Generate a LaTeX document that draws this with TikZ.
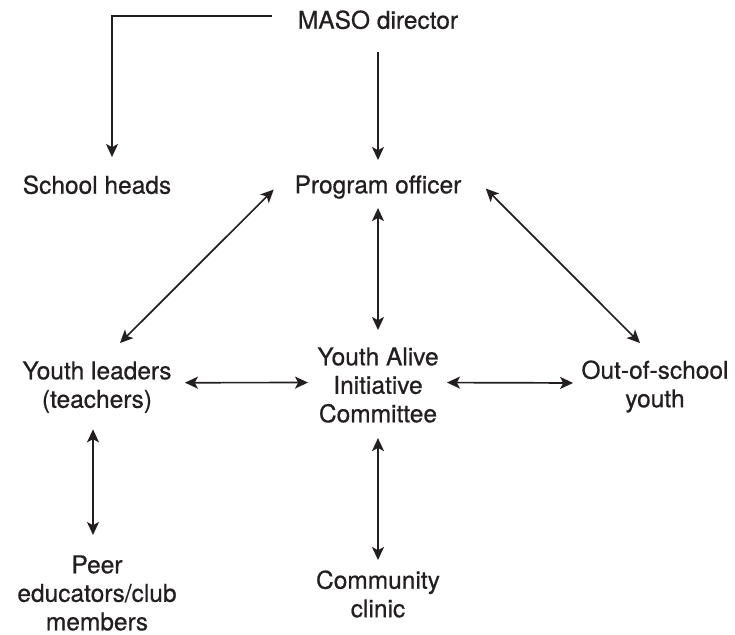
\documentclass[tikz,border=0pt]{standalone}
\usepackage{fontspec}
\setmainfont{TeX Gyre Heros}[FakeBold=0.6]
\usepackage{tikz}
\usetikzlibrary{arrows.meta,positioning,calc}
\usepackage{xcolor}
\definecolor{ink}{HTML}{231F20}
\tikzset{
  role/.style   = {inner sep=0pt, align=center, anchor=north, text=ink,
                   font=\fontsize{12.25}{14.25}\selectfont},
  flow/.style   = {-{Stealth[length=6.5pt,width=6pt,inset=1.6pt]}, line width=0.85pt, draw=ink},
  duplex/.style = {{Stealth[length=6.5pt,width=6pt,inset=1.6pt]}-{Stealth[length=6.5pt,width=6pt,inset=1.6pt]},
                   line width=0.85pt, draw=ink},
}

\begin{document}
\begin{tikzpicture}[x=0.5pt,y=-0.5pt]
\useasboundingbox (0,0) rectangle (735,634);
\node[role] (maso) at (378,10) {MASO director};
\node[role] (school) at (97,175) {School heads};
\node[role] (prog) at (378,175) {Program officer};
\node[role] (lead) at (97,361) {Youth leaders\\(teachers)};
\node[role] (yaic) at (378,347) {Youth Alive\\Initiative\\Committee};
\node[role] (out) at (655,360) {Out-of-school\\youth};
\node[role] (peer) at (97,555) {Peer\\educators/club\\members};
\node[role] (clinic) at (378,570) {Community\\clinic};

\draw[flow] ([shift={(-26,-3.8)}]maso.west) -| ([shift={(15,-18)}]school.north);
\draw[flow] ([shift={(0,22)}]maso.south) -- ([shift={(0,-15)}]prog.north);
\draw[duplex] ([shift={(0,9)}]prog.south) -- ([shift={(0,-17)}]yaic.north);
\draw[duplex] ([shift={(-20.5,2.5)}]prog.west) -- ([shift={(23,-18)}]lead.north);
\draw[duplex] ([shift={(24,1.5)}]prog.east) -- ([shift={(-15,-17)}]out.north);
\draw[duplex] ([shift={(13,-4.5)}]lead.east) -- ([shift={(-9,-2.5)}]yaic.west);
\draw[duplex] ([shift={(8,-2.5)}]yaic.east) -- ([shift={(-8,-3.5)}]out.west);
\draw[duplex] ([shift={(-4,16)}]lead.south) -- ([shift={(-4,-20)}]peer.north);
\draw[duplex] ([shift={(0,15)}]yaic.south) -- ([shift={(0,-10)}]clinic.north);
\end{tikzpicture}
\end{document}
